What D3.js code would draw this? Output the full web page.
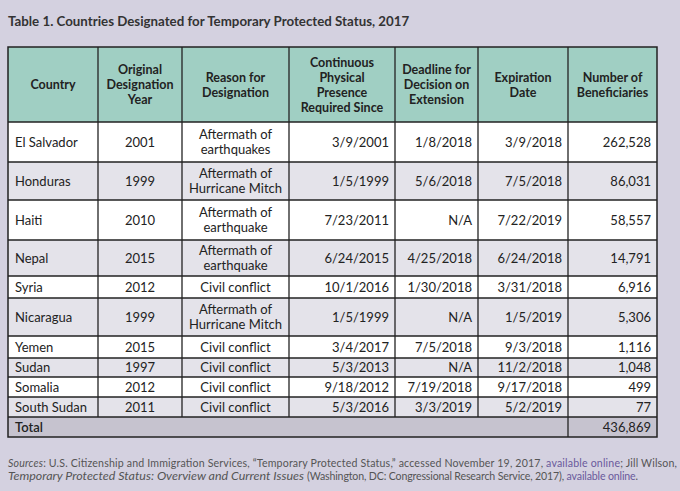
<!DOCTYPE html>
<html><head><meta charset="utf-8">
<script src="https://cdn.jsdelivr.net/npm/d3@7"></script>
<style>
html,body{margin:0;padding:0;background:#d4d1e0;}
svg{display:block;font-family:Lato, "Open Sans", sans-serif;}
</style></head>
<body><svg id="c" width="680" height="491"></svg>
<script>
// ---- data ----
const title = "Table 1. Countries Designated for Temporary Protected Status, 2017";
const headers = [["Country"],["Original","Designation","Year"],["Reason for","Designation"],["Continuous","Physical","Presence","Required Since"],["Deadline for","Decision on","Extension"],["Expiration","Date"],["Number of","Beneficiaries"]];
const countries = ["El Salvador","Honduras","Haiti","Nepal","Syria","Nicaragua","Yemen","Sudan","Somalia","South Sudan"];
const years = ["2001","1999","2010","2015","2012","1999","2015","1997","2012","2011"];
const reasons = [["Aftermath of","earthquakes"],["Aftermath of","Hurricane Mitch"],["Aftermath of","earthquake"],["Aftermath of","earthquake"],["Civil conflict"],["Aftermath of","Hurricane Mitch"],["Civil conflict"],["Civil conflict"],["Civil conflict"],["Civil conflict"]];
const presence = ["3/9/2001","1/5/1999","7/23/2011","6/24/2015","10/1/2016","1/5/1999","3/4/2017","5/3/2013","9/18/2012","5/3/2016"];
const deadlines = ["1/8/2018","5/6/2018","N/A","4/25/2018","1/30/2018","N/A","7/5/2018","N/A","7/19/2018","3/3/2019"];
const expirations = ["3/9/2018","7/5/2018","7/22/2019","6/24/2018","3/31/2018","1/5/2019","9/3/2018","11/2/2018","9/17/2018","5/2/2019"];
const beneficiaries = [262528,86031,58557,14791,6916,5306,1116,1048,499,77];
const totalLabel = "Total";
const totalValue = 436869;

// ---- layout ----
const colEdges = [8,98,182,289,395,478,568,657];
const headerTop = 47, headerBottom = 122;
const rowHeights = [40,38,40,36,22,38,22,19,20,20];
const totalHeight = 20;
const align = ["start","middle","middle","end","end","end","end"];
const fmt = d3.format(",");

const svg = d3.select("#c");
svg.append("rect").attr("width",680).attr("height",491).attr("fill","#d4d1e0");

svg.append("text").attr("x",8).attr("y",26)
  .attr("font-size",13.3).attr("font-weight","bold").attr("fill","#333")
  .text(title);

const rowTops = [];
let yy = headerBottom;
rowHeights.forEach(h=>{rowTops.push(yy); yy+=h;});
const totalTop = yy, tableBottom = yy + totalHeight;

const rows = countries.map((c,i)=>[[c],[years[i]],reasons[i],[presence[i]],[deadlines[i]],[expirations[i]],[fmt(beneficiaries[i])]]);

// header
svg.append("rect").attr("x",colEdges[0]).attr("y",headerTop)
  .attr("width",colEdges[7]-colEdges[0]).attr("height",headerBottom-headerTop).attr("fill","#a0cfc3");

function cellText(g, lines, ci, yTop, h, opts){
  const lh = 15;
  const x = align[ci]==="start" ? colEdges[ci]+7 : align[ci]==="middle" ? (colEdges[ci]+colEdges[ci+1])/2 : colEdges[ci+1]-6;
  const anchor = opts.header ? "middle" : align[ci];
  const cx = opts.header ? (colEdges[ci]+colEdges[ci+1])/2 : x;
  const cy = yTop + h/2;
  const t = g.append("text").attr("text-anchor",anchor)
    .attr("font-size",opts.size).attr("font-weight",opts.weight).attr("fill",opts.fill);
  lines.forEach((ln,k)=>{
    t.append("tspan").attr("x",cx)
      .attr("y", cy + (k-(lines.length-1)/2)*lh + opts.size*0.36)
      .text(ln);
  });
}

const hg = svg.append("g");
headers.forEach((h,ci)=>cellText(hg,h,ci,headerTop,headerBottom-headerTop,{header:true,size:12.5,weight:"bold",fill:"#222"}));

// body rows
const bg = svg.append("g");
rows.forEach((r,i)=>{
  bg.append("rect").attr("x",colEdges[0]).attr("y",rowTops[i])
    .attr("width",colEdges[7]-colEdges[0]).attr("height",rowHeights[i])
    .attr("fill", i%2===0 ? "#ffffff" : "#e4e3ea");
  r.forEach((lines,ci)=>cellText(bg,lines,ci,rowTops[i],rowHeights[i],{size:13,weight:"normal",fill:"#222"}));
});

// total row
svg.append("rect").attr("x",colEdges[0]).attr("y",totalTop)
  .attr("width",colEdges[7]-colEdges[0]).attr("height",totalHeight).attr("fill","#c6c3cf");
svg.append("text").attr("x",colEdges[0]+7).attr("y",totalTop+totalHeight/2+13*0.36)
  .attr("font-size",13).attr("font-weight","600").attr("fill","#222").text(totalLabel);
svg.append("text").attr("x",colEdges[7]-6).attr("y",totalTop+totalHeight/2+13*0.36)
  .attr("text-anchor","end").attr("font-size",13).attr("fill","#222").text(fmt(totalValue));

// grid lines
const lines = svg.append("g").attr("stroke","#222").attr("stroke-width",1.3).attr("fill","none");
[headerBottom,...rowTops.slice(1),totalTop].forEach(y=>{
  lines.append("line").attr("x1",colEdges[0]).attr("x2",colEdges[7]).attr("y1",y).attr("y2",y);
});
colEdges.slice(1,-1).forEach(x=>{
  lines.append("line").attr("x1",x).attr("x2",x).attr("y1",headerTop).attr("y2",totalTop);
});
lines.append("line").attr("x1",colEdges[6]).attr("x2",colEdges[6]).attr("y1",totalTop).attr("y2",tableBottom);
lines.append("rect").attr("x",colEdges[0]).attr("y",headerTop)
  .attr("width",colEdges[7]-colEdges[0]).attr("height",tableBottom-headerTop).attr("stroke-width",1.5);

// footer
const purple = "#6a5a9c", gray = "#555";
const fs = 10.6;
const f1 = svg.append("text").attr("x",8).attr("y",467).attr("font-size",fs).attr("fill",gray)
  .attr("textLength",669).attr("lengthAdjust","spacing");
f1.append("tspan").attr("font-style","italic").text("Sources");
f1.append("tspan").text(": U.S. Citizenship and Immigration Services, \u201CTemporary Protected Status,\u201D accessed November 19, 2017, ");
f1.append("tspan").attr("fill",purple).text("available online");
f1.append("tspan").text("; Jill Wilson,");
svg.append("text").attr("x",8).attr("y",480).attr("font-size",fs).attr("fill",gray)
  .attr("font-style","italic").attr("textLength",296).attr("lengthAdjust","spacingAndGlyphs")
  .text("Temporary Protected Status: Overview and Current Issues");
const f2 = svg.append("text").attr("x",307).attr("y",480).attr("font-size",fs).attr("fill",gray)
  .attr("textLength",331).attr("lengthAdjust","spacing");
f2.append("tspan").text("(Washington, DC: Congressional Research Service, 2017), ");
f2.append("tspan").attr("fill",purple).text("available online");
f2.append("tspan").text(".");
</script></body></html>
